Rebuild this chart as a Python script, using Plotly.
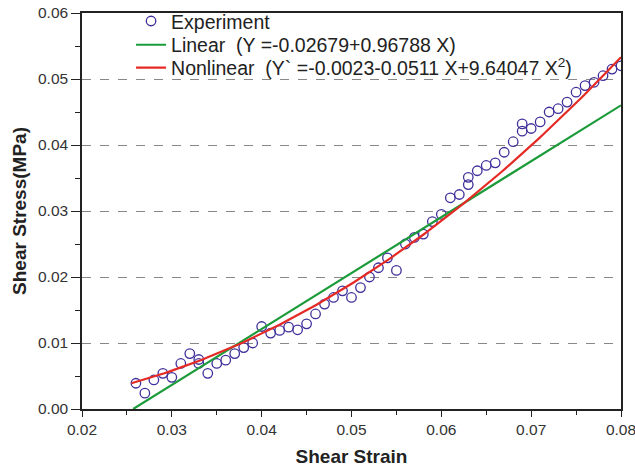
import plotly.graph_objects as go
import numpy as np

# Experimental data (shear strain, shear stress in MPa)
strain = [0.026, 0.027, 0.028, 0.029, 0.030, 0.031, 0.032, 0.033, 0.033, 0.034,
          0.035, 0.036, 0.037, 0.038, 0.039, 0.040, 0.041, 0.042, 0.043, 0.044,
          0.045, 0.046, 0.047, 0.048, 0.049, 0.050, 0.051, 0.052, 0.053, 0.054,
          0.055, 0.056, 0.057, 0.058, 0.059, 0.060, 0.061, 0.062, 0.063, 0.063,
          0.064, 0.065, 0.066, 0.067, 0.068, 0.069, 0.069, 0.070, 0.071, 0.072,
          0.073, 0.074, 0.075, 0.076, 0.077, 0.078, 0.079, 0.080]
stress = [0.0039, 0.0024, 0.0044, 0.0054, 0.0048, 0.0069, 0.0084, 0.0075, 0.0069, 0.0054,
          0.0069, 0.0074, 0.0084, 0.0093, 0.0100, 0.0125, 0.0115, 0.0119, 0.0124, 0.0120,
          0.0129, 0.0144, 0.0159, 0.0169, 0.0179, 0.0169, 0.0184, 0.0200, 0.0214, 0.0229,
          0.0210, 0.0250, 0.0260, 0.0265, 0.0284, 0.0295, 0.0320, 0.0325, 0.0340, 0.0351,
          0.0361, 0.0369, 0.0373, 0.0389, 0.0405, 0.0421, 0.0432, 0.0425, 0.0435, 0.0450,
          0.0455, 0.0465, 0.0480, 0.0490, 0.0495, 0.0505, 0.0515, 0.0520]

# Fitted curves as drawn in the chart
linear_coef = [-0.02177, 0.8473]          # a + b*x
nonlinear_coef = [0.0006, -0.118, 9.71]   # a + b*x + c*x^2
linear_x_range = [0.0257, 0.080]
nonlinear_x_range = [0.0255, 0.080]

legend_names = ["Experiment",
                "Linear  (Y =-0.02679+0.96788 X)",
                "Nonlinear  (Y` =-0.0023-0.0511 X+9.64047 X<sup>2</sup>)"]

x_ticks = [0.02, 0.03, 0.04, 0.05, 0.06, 0.07, 0.08]
y_ticks = [0.00, 0.01, 0.02, 0.03, 0.04, 0.05, 0.06]

xl = np.linspace(*linear_x_range, 50)
yl = linear_coef[0] + linear_coef[1] * xl
xn = np.linspace(*nonlinear_x_range, 120)
yn = nonlinear_coef[0] + nonlinear_coef[1] * xn + nonlinear_coef[2] * xn ** 2

fig = go.Figure()
fig.add_trace(go.Scatter(x=strain, y=stress, mode="markers", name=legend_names[0],
                         legend="legend",
                         marker=dict(symbol="circle-open", size=9.5, color="#3f2f9a",
                                     line=dict(width=1.3, color="#3f2f9a"))))
fig.add_trace(go.Scatter(x=xl, y=yl, mode="lines", name=legend_names[1],
                         legend="legend2",
                         line=dict(color="#1c9b3a", width=2.2)))
fig.add_trace(go.Scatter(x=xn, y=yn, mode="lines", name=legend_names[2],
                         legend="legend3",
                         line=dict(color="#e52a25", width=2.2)))

font_family = "Liberation Sans, Arial, sans-serif"
leg_common = dict(x=0.091, xanchor="left", yanchor="middle",
                  bgcolor="rgba(0,0,0,0)", font=dict(size=19.5, color="#222"),
                  itemwidth=30)
fig.update_layout(
    width=635, height=472,
    margin=dict(l=82, r=14, t=13, b=63, autoexpand=False),
    plot_bgcolor="white", paper_bgcolor="white",
    font=dict(family=font_family, color="#222"),
    showlegend=True,
    legend=dict(y=0.979, **leg_common),
    legend2=dict(y=0.919, **leg_common),
    legend3=dict(y=0.861, **leg_common),
    hovermode=False,
)
fig.update_xaxes(range=[0.02, 0.08], tickvals=x_ticks, tickformat=".2f",
                 automargin=False, ticklabeloverflow="allow",
                 showline=True, linecolor="#222", linewidth=1.5, mirror=True,
                 ticks="outside", ticklen=6, tickwidth=1.3, tickcolor="#222",
                 minor=dict(ticks="outside", ticklen=4, dtick=0.005, tickcolor="#222", tickwidth=1.3),
                 showgrid=False, zeroline=False,
                 tickfont=dict(size=15.5, color="#333"),
                 title=dict(text="<b>Shear Strain</b>", font=dict(size=19, color="#222"), standoff=12))
fig.update_yaxes(range=[0, 0.06], tickvals=y_ticks, tickformat=".2f",
                 automargin=False, ticklabeloverflow="allow",
                 showline=True, linecolor="#222", linewidth=1.5, mirror=True,
                 ticks="outside", ticklen=9, tickwidth=1.3, tickcolor="#222",
                 minor=dict(ticks="outside", ticklen=5, dtick=0.005, tickcolor="#222", tickwidth=1.3),
                 showgrid=True, gridcolor="#888", griddash="dash", gridwidth=1,
                 zeroline=False,
                 tickfont=dict(size=15.5, color="#333"),
                 title=dict(text="<b>Shear Stress(MPa)</b>", font=dict(size=19, color="#222"), standoff=6))

fig.write_html("out.html", config={"displayModeBar": False},
               post_script="document.body.style.margin='0';")
